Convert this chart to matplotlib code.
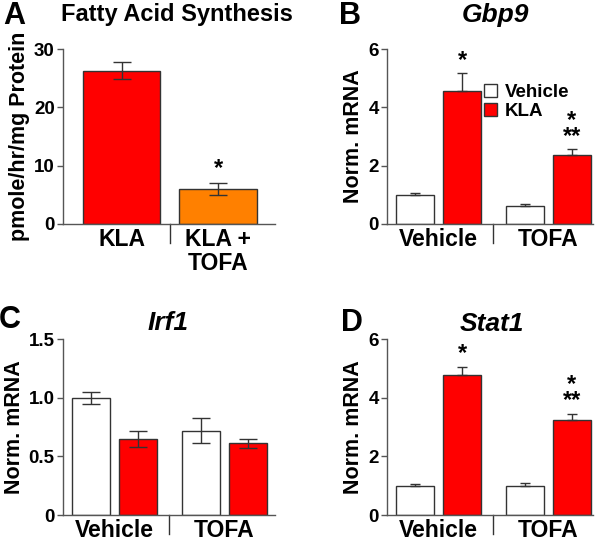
import matplotlib
matplotlib.use("Agg")
import matplotlib.pyplot as plt
import matplotlib.transforms as mtransforms
from matplotlib.patches import Patch

plt.rcParams["font.family"] = ["Liberation Sans", "DejaVu Sans"]
plt.rcParams["font.weight"] = "bold"

# Panel A: fatty acid synthesis
a_labels = ["KLA", "KLA +\nTOFA"]
a_values = [26.3, 6.0]
a_errors = [1.4, 1.0]

# Panels B-D: group labels and series
groups = ["Vehicle", "TOFA"]
series = ["Vehicle", "KLA"]

gbp9_vehicle = [1.0, 0.62]
gbp9_vehicle_err = [0.05, 0.06]
gbp9_kla = [4.57, 2.35]
gbp9_kla_err = [0.6, 0.22]

irf1_vehicle = [1.0, 0.72]
irf1_vehicle_err = [0.05, 0.11]
irf1_kla = [0.65, 0.61]
irf1_kla_err = [0.07, 0.04]

stat1_vehicle = [1.0, 1.0]
stat1_vehicle_err = [0.04, 0.1]
stat1_kla = [4.78, 3.24]
stat1_kla_err = [0.27, 0.22]

RED = "#ff0000"
ORANGE = "#ff8000"
EDGE = "#333333"
SPINE = "#555555"

W, H = 600, 542
fig = plt.figure(figsize=(6.0, 5.42), dpi=100)


def rect(left, right, top, bottom):
    return [left / W, (H - bottom) / H, (right - left) / W, (bottom - top) / H]


def style(ax, ylim, yticks, yticklabels, ylabel):
    ax.set_ylim(*ylim)
    ax.set_yticks(yticks)
    ax.set_yticklabels(yticklabels)
    for s in ["top", "right"]:
        ax.spines[s].set_visible(False)
    for s in ["left", "bottom"]:
        ax.spines[s].set_color(SPINE)
        ax.spines[s].set_linewidth(1)
    ax.tick_params(axis="y", length=4, width=1, color=SPINE, labelsize=13.5, pad=2)
    ax.tick_params(axis="x", length=0, labelsize=16.5, pad=3)
    ax.set_ylabel(ylabel, fontsize=15.5, fontweight="bold", labelpad=3)


def separator(ax, x):
    trans = mtransforms.blended_transform_factory(ax.transData, ax.transAxes)
    ax.plot([x, x], [0, -0.11], transform=trans, color=EDGE, lw=1, clip_on=False)


def grouped(ax, veh, veh_err, kla, kla_err, caps, both):
    x = range(len(groups))
    off, bw = 0.214, 0.345
    xv = [i - off for i in x]
    xk = [i + off for i in x]
    lo_v = veh_err if both else [0] * len(veh_err)
    lo_k = kla_err if both else [0] * len(kla_err)
    ax.bar(xv, veh, bw, color="white", edgecolor=EDGE, lw=1, label=series[0], zorder=2)
    ax.bar(xk, kla, bw, color=RED, edgecolor=EDGE, lw=1, label=series[1], zorder=2)
    ax.errorbar(xv, veh, yerr=[lo_v, veh_err], fmt="none", ecolor=EDGE,
                elinewidth=1, capsize=caps, capthick=1, zorder=3)
    ax.errorbar(xk, kla, yerr=[lo_k, kla_err], fmt="none", ecolor=EDGE,
                elinewidth=1, capsize=caps, capthick=1, zorder=3)
    ax.set_xticks(list(x))
    ax.set_xticklabels(groups)
    separator(ax, 0.5)
    return xk


# ---- Panel A
axA = fig.add_axes(rect(63, 275, 49, 224))
xa = [0, 1]
axA.bar(xa, a_values, 0.8, color=[RED, ORANGE], edgecolor=EDGE, lw=1, zorder=2)
axA.errorbar(xa, a_values, yerr=a_errors, fmt="none", ecolor=EDGE,
             elinewidth=1, capsize=6.5, capthick=1, zorder=3)
axA.set_xlim(-0.606, 1.59)
style(axA, (0, 30), [0, 10, 20, 30], ["0", "10", "20", "30"], "pmole/hr/mg Protein")
axA.set_xticks(xa)
axA.set_xticklabels(a_labels, linespacing=1.05)
separator(axA, 0.5)
axA.text(1, a_values[1] + a_errors[1] + 0.5, "*", ha="center", va="bottom", fontsize=17)

# ---- Panel B
axB = fig.add_axes(rect(387, 593, 49, 224))
xk = grouped(axB, gbp9_vehicle, gbp9_vehicle_err, gbp9_kla, gbp9_kla_err, 3.6, False)
axB.set_xlim(-0.468, 1.405)
style(axB, (0, 6), [0, 2, 4, 6], ["0", "2", "4", "6"], "Norm. mRNA")
axB.text(xk[0], gbp9_kla[0] + gbp9_kla_err[0] + 0.05, "*", ha="center", va="bottom", fontsize=17)
axB.text(xk[1], gbp9_kla[1] + gbp9_kla_err[1] + 0.05, "*\n**", ha="center", va="bottom",
         fontsize=17, linespacing=0.6)
handles = [Patch(facecolor="white", edgecolor=EDGE, lw=1), Patch(facecolor=RED, edgecolor=EDGE, lw=1)]
axB.legend(handles, series, loc="upper left", bbox_to_anchor=(0.47, 0.8), frameon=False,
           handlelength=0.7, handleheight=0.7, handletextpad=0.4,
           borderpad=0, borderaxespad=0, labelspacing=0.1, prop={"weight": "bold", "size": 13.5})

# ---- Panel C
axC = fig.add_axes(rect(63, 275, 339, 515))
grouped(axC, irf1_vehicle, irf1_vehicle_err, irf1_kla, irf1_kla_err, 6.5, True)
axC.set_xlim(-0.468, 1.459)
style(axC, (0, 1.5), [0, 0.5, 1.0, 1.5], ["0", "0.5", "1.0", "1.5"], "Norm. mRNA")

# ---- Panel D
axD = fig.add_axes(rect(387, 593, 339, 515))
xk = grouped(axD, stat1_vehicle, stat1_vehicle_err, stat1_kla, stat1_kla_err, 3.6, False)
axD.set_xlim(-0.468, 1.405)
style(axD, (0, 6), [0, 2, 4, 6], ["0", "2", "4", "6"], "Norm. mRNA")
axD.text(xk[0], stat1_kla[0] + stat1_kla_err[0] + 0.05, "*", ha="center", va="bottom", fontsize=17)
axD.text(xk[1], stat1_kla[1] + stat1_kla_err[1] + 0.05, "*\n**", ha="center", va="bottom",
         fontsize=17, linespacing=0.6)

# ---- titles and panel letters
def ftext(x, y, s, **kw):
    fig.text(x / W, 1 - y / H, s, ha="center", va="center", fontweight="bold", **kw)

ftext(14, 16, "A", fontsize=22)
ftext(350, 16, "B", fontsize=22)
ftext(10, 320, "C", fontsize=22)
ftext(352, 323, "D", fontsize=22)
ftext(177, 15, "Fatty Acid Synthesis", fontsize=17)
ftext(495, 15, "Gbp9", fontsize=19)
ftext(168, 323, "Irf1", fontsize=19)
ftext(492, 324, "Stat1", fontsize=19)
for t in fig.texts[-3:]:
    t.set_style("italic")

fig.savefig("out.png", dpi=100, facecolor="white")
